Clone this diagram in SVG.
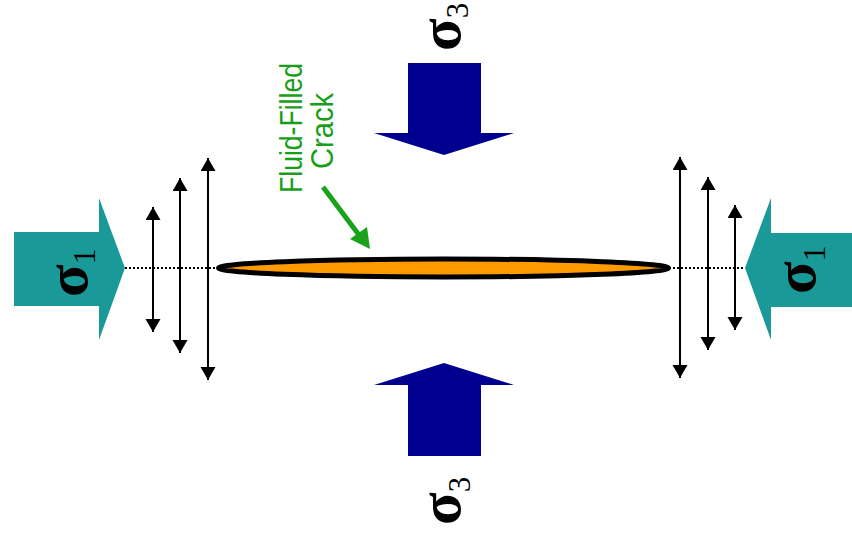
<svg xmlns="http://www.w3.org/2000/svg" width="852" height="537" viewBox="0 0 852 537">
<style>
.teal{fill:#199a98}
.blue{fill:#000090}
.sig{font-family:"Liberation Serif","Times New Roman",serif;font-size:60px;font-weight:bold;fill:#000}
.sub{font-size:31px;font-weight:normal}
.lbl{font-family:"Liberation Sans",Arial,sans-serif;font-size:32px;fill:#1a9e1a;text-anchor:middle}
.dbl{stroke:#000;stroke-width:2;fill:none;marker-start:url(#ah);marker-end:url(#ah)}
.dot{stroke:#000;stroke-width:2;stroke-dasharray:2 2;fill:none}
</style>
<defs>
<marker id="ah" markerUnits="userSpaceOnUse" markerWidth="14" markerHeight="16" refX="13" refY="7.5" orient="auto-start-reverse">
<path d="M0,0 L13,7.5 L0,15 z" fill="#000"/>
</marker>
</defs>
<rect width="852" height="537" fill="#fff"/>
<g id="sigma1-left">
<path class="teal" d="M14,232 H99 V198 L125,268 L99,340 V306 H14 Z"/>
<text class="sig" transform="translate(87,297) rotate(-90)">σ<tspan class="sub" dy="8">1</tspan></text>
</g>
<g id="sigma1-right">
<path class="teal" d="M852,233 H771 V198 L745,268 L771,340 V307 H852 Z"/>
<text class="sig" transform="translate(815,294) rotate(-90)">σ<tspan class="sub" dy="10">1</tspan></text>
</g>
<g id="sigma3-top">
<path class="blue" d="M408,63 H481 V133 H514 L444,155 L374,133 H408 Z"/>
<text class="sig" transform="translate(460,51) rotate(-90)">σ<tspan class="sub" dy="8">3</tspan></text>
</g>
<g id="sigma3-bottom">
<path class="blue" d="M408,456 H481 V385 H514 L444,363 L374,385 H408 Z"/>
<text class="sig" transform="translate(460,525) rotate(-90)">σ<tspan class="sub" dy="10">3</tspan></text>
</g>
<g id="crack">
<ellipse cx="443.5" cy="268" rx="225" ry="9" fill="#ff9a00" stroke="#000" stroke-width="5"/>
</g>
<g id="label">
<text class="lbl" transform="translate(302,128) rotate(-90)" textLength="130" lengthAdjust="spacingAndGlyphs">Fluid-Filled</text>
<text class="lbl" transform="translate(333,131) rotate(-90)" textLength="76" lengthAdjust="spacingAndGlyphs">Crack</text>
</g>
<g id="connectors">
<line class="dot" x1="125" y1="268" x2="218" y2="268"/>
<line class="dot" x1="669" y1="268" x2="745" y2="268"/>
<line class="dbl" x1="153" y1="207" x2="153" y2="332"/>
<line class="dbl" x1="180" y1="178" x2="180" y2="353"/>
<line class="dbl" x1="208" y1="158" x2="208" y2="380"/>
<line class="dbl" x1="680" y1="157" x2="680" y2="378"/>
<line class="dbl" x1="708" y1="177" x2="708" y2="350"/>
<line class="dbl" x1="735" y1="205" x2="735" y2="330"/>
<line x1="323" y1="187" x2="359" y2="235" stroke="#1aa31a" stroke-width="5"/>
<polygon points="370,249 350,239 367,227" fill="#1aa31a"/>
</g>
</svg>
